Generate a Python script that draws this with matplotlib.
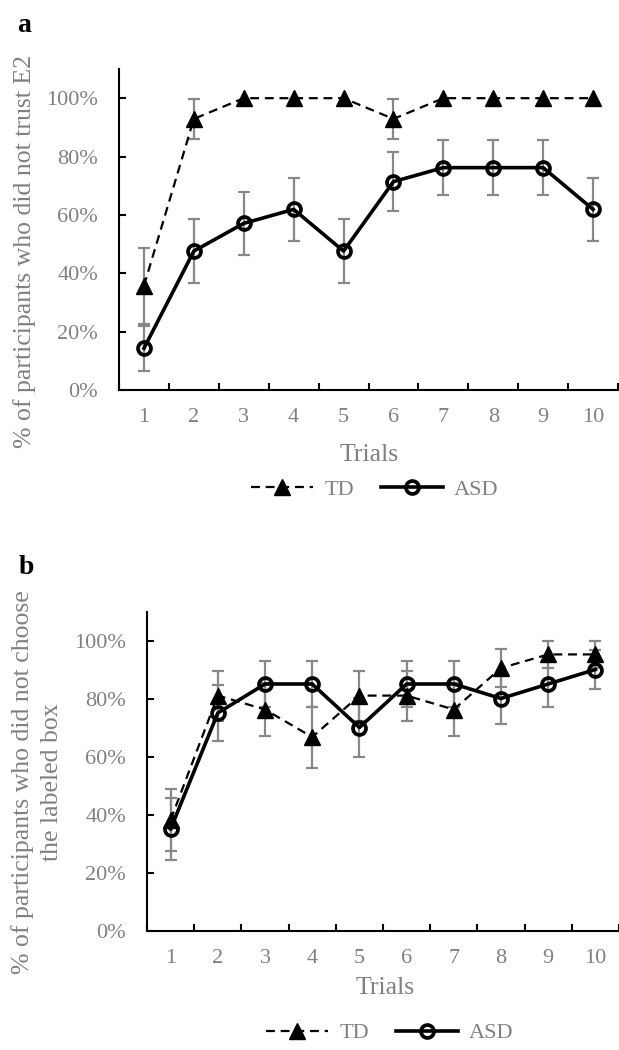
import numpy as np
import matplotlib
matplotlib.use("Agg")
import matplotlib.pyplot as plt

plt.rcParams["font.family"] = ["Liberation Serif", "DejaVu Serif"]

trials = [1, 2, 3, 4, 5, 6, 7, 8, 9, 10]
y_ticks = [0, 20, 40, 60, 80, 100]

# panel a: did not trust E2
a_td = [35.7, 92.9, 100, 100, 100, 92.9, 100, 100, 100, 100]
a_td_err = [13.0, 6.9, 0, 0, 0, 6.9, 0, 0, 0, 0]
a_asd = [14.3, 47.6, 57.1, 61.9, 47.6, 71.4, 76.2, 76.2, 76.2, 61.9]
a_asd_err = [7.8, 11.0, 10.9, 10.7, 11.0, 10.0, 9.4, 9.4, 9.4, 10.8]

# panel b: did not choose the labeled box
b_td = [38.1, 81.0, 76.2, 66.7, 81.0, 81.0, 76.2, 90.5, 95.2, 95.2]
b_td_err = [10.8, 8.6, 9.3, 10.5, 8.6, 8.6, 9.3, 6.4, 4.6, 4.6]
b_asd = [35, 75, 85, 85, 70, 85, 85, 80, 85, 90]
b_asd_err = [10.7, 9.7, 8.0, 8.0, 10.2, 8.0, 8.0, 8.9, 8.0, 6.7]

GRAY = "#808080"
ERR = "#888888"


def draw_panel(ax, td, td_err, asd, asd_err):
    x = np.array(trials)
    for vals, err in ((td, td_err), (asd, asd_err)):
        vals = np.array(vals)
        err = np.array(err)
        m = err > 0
        ax.errorbar(x[m], vals[m], yerr=err[m], fmt="none", ecolor=ERR,
                    elinewidth=1.6, capsize=4.5, capthick=1.6, zorder=2)
    l1, = ax.plot(x, td, color="black", ls="--", dashes=(4, 2.6), lw=1.6,
                  marker="^", ms=11, mfc="black", mec="black", zorder=3,
                  label="TD")
    l2, = ax.plot(x, asd, color="black", lw=2.6, marker="o", ms=9.3,
                  mfc="none", mec="black", mew=2.7, zorder=4, label="ASD")

    ax.set_xlim(0.5, 10.5)
    ax.set_ylim(0, 110)
    ax.set_xticks(trials)
    ax.set_xticklabels([str(t) for t in trials])
    ax.set_xticks(np.arange(0.5, 11, 1), minor=True)
    ax.set_yticks(y_ticks)
    ax.set_yticklabels([f"{v}%" for v in y_ticks])
    ax.tick_params(axis="x", which="major", length=0, pad=13,
                   labelsize=16, labelcolor=GRAY)
    ax.tick_params(axis="x", which="minor", direction="in", length=5,
                   width=1.5, color="black")
    ax.tick_params(axis="y", direction="in", length=5, width=1.5,
                   pad=15, labelsize=16, labelcolor=GRAY)
    for s in ("top", "right"):
        ax.spines[s].set_visible(False)
    for s in ("left", "bottom"):
        ax.spines[s].set_linewidth(1.5)
        ax.spines[s].set_color("black")
    return l1, l2


fig = plt.figure(figsize=(6.19, 10.5), dpi=100)
W, H = 619.0, 1050.0

# panel a
ax_a = fig.add_axes([119 / W, 1 - 390 / H, 499 / W, 321 / H])
h = draw_panel(ax_a, a_td, a_td_err, a_asd, a_asd_err)
fig.text(24 / W, 1 - 26 / H, "a", fontsize=20, fontweight="bold",
         ha="center", va="center")
fig.text(25 / W, 1 - 252 / H, "% of participants who did not trust E2",
         rotation=90, fontsize=18.5, color=GRAY, ha="center", va="center")
fig.text(369 / W, 1 - 455 / H, "Trials", fontsize=18.5, color=GRAY,
         ha="center", va="center")
fig.legend(handles=h, loc="center", bbox_to_anchor=(375 / W, 1 - 490 / H),
           ncol=2, frameon=False, fontsize=16, labelcolor=GRAY,
           handlelength=2.8, handletextpad=0.5, columnspacing=1.2,
           numpoints=1)

# panel b
ax_b = fig.add_axes([147 / W, 1 - 930.5 / H, 472 / W, 319 / H])
h = draw_panel(ax_b, b_td, b_td_err, b_asd, b_asd_err)
fig.text(26 / W, 1 - 568 / H, "b", fontsize=20, fontweight="bold",
         ha="center", va="center")
fig.text(37 / W, 1 - 782 / H,
         "% of participants who did not choose\nthe labeled box",
         rotation=90, fontsize=18.5, color=GRAY, ha="center", va="center",
         multialignment="center", linespacing=1.45)
fig.text(385 / W, 1 - 988 / H, "Trials", fontsize=18.5, color=GRAY,
         ha="center", va="center")
fig.legend(handles=h, loc="center", bbox_to_anchor=(390 / W, 1 - 1033 / H),
           ncol=2, frameon=False, fontsize=16, labelcolor=GRAY,
           handlelength=2.8, handletextpad=0.5, columnspacing=1.2,
           numpoints=1)

fig.savefig("out.png", dpi=100, facecolor="white")
